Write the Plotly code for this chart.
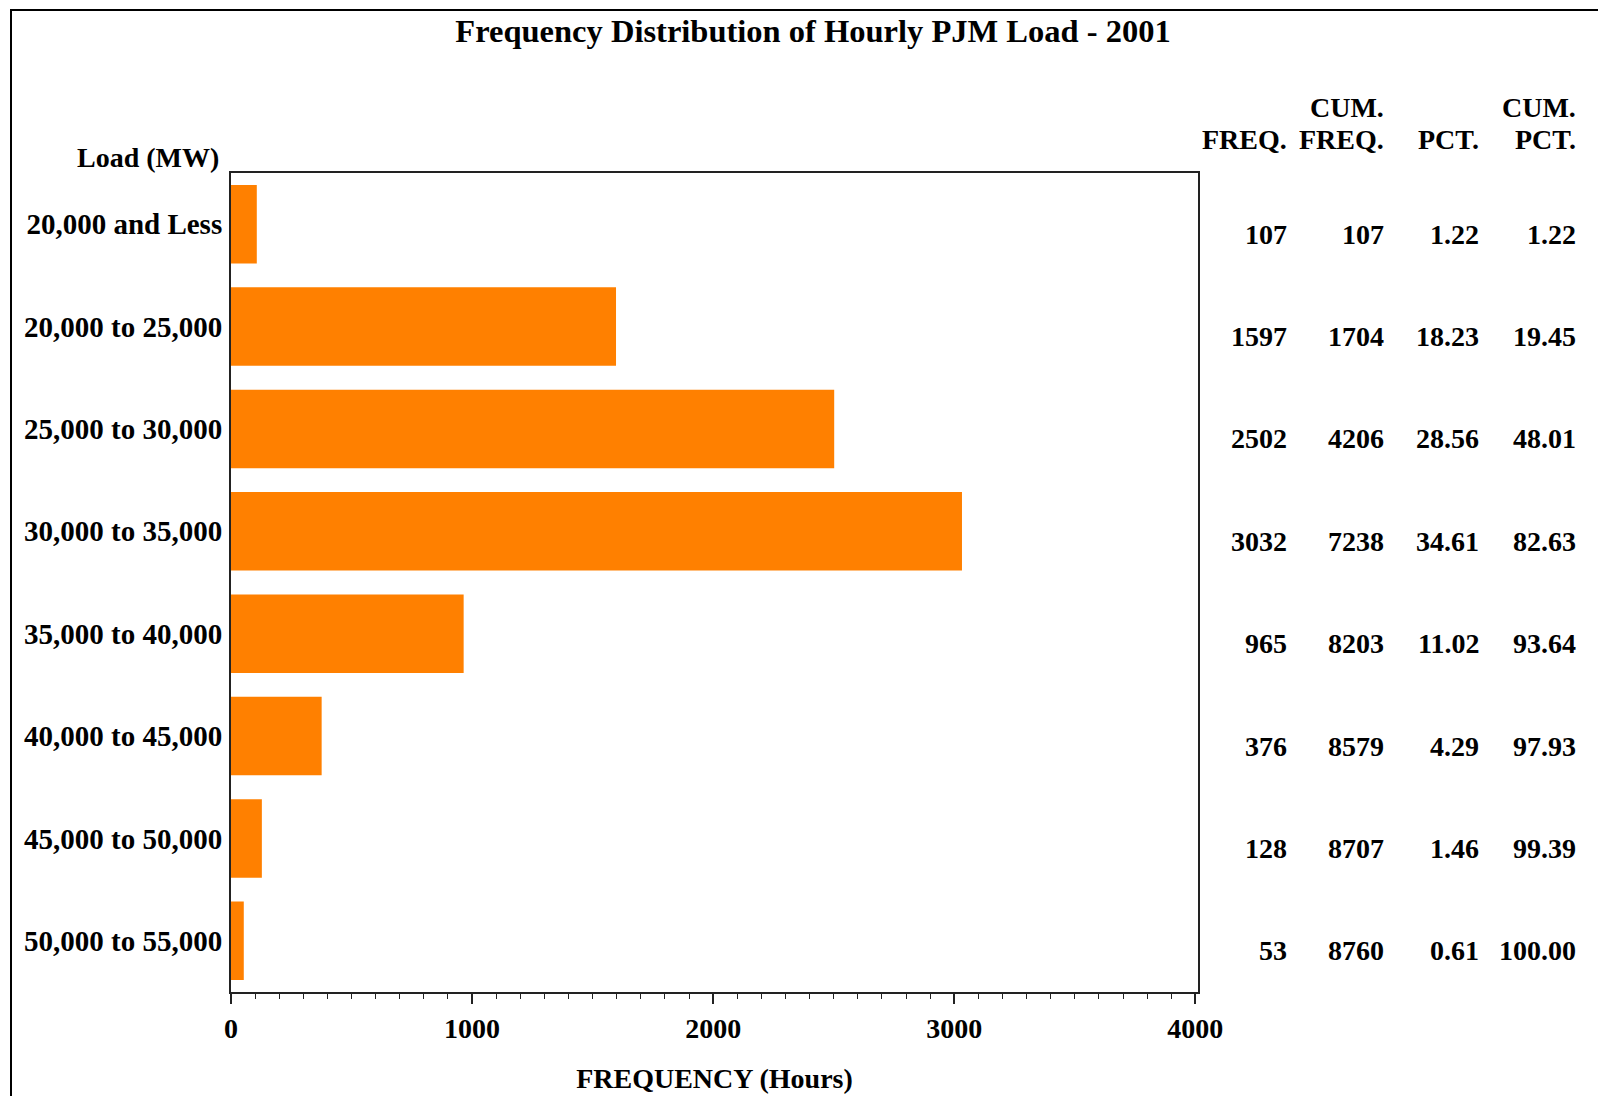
import plotly.graph_objects as go

# ---- data ----
load_bins = ["20,000 and Less", "20,000 to 25,000", "25,000 to 30,000", "30,000 to 35,000",
             "35,000 to 40,000", "40,000 to 45,000", "45,000 to 50,000", "50,000 to 55,000"]
freq = [107, 1597, 2502, 3032, 965, 376, 128, 53]
cum_freq = [107, 1704, 4206, 7238, 8203, 8579, 8707, 8760]
pct = ["1.22", "18.23", "28.56", "34.61", "11.02", "4.29", "1.46", "0.61"]
cum_pct = ["1.22", "19.45", "48.01", "82.63", "93.64", "97.93", "99.39", "100.00"]
table_headers = [("FREQ.", ""), ("FREQ.", "CUM."), ("PCT.", ""), ("PCT.", "CUM.")]
x_ticks = [0, 1000, 2000, 3000, 4000]

# ---- layout geometry (pixels in the 1606x1096 page) ----
PAGE_W, PAGE_H = 1606, 1096
OFF = 8                      # page body margin in which the figure sits
W, H = PAGE_W - OFF, PAGE_H - OFF
L, R, T, B = 231 - OFF, PAGE_W - 1198, 173 - OFF, PAGE_H - 992
PW, PH = W - L - R, H - T - B


def px_x(px):
    return (px - OFF - L) / PW


def px_y(py):
    return 1 - (py - OFF - T) / PH


FONT = "Liberation Serif"
fnt = dict(family=FONT, size=28, color="black", weight="bold")

fig = go.Figure()
fig.add_trace(go.Bar(
    x=freq, y=load_bins, orientation="h",
    marker=dict(color="#FF8000", line=dict(width=0)),
    hoverinfo="x+y", showlegend=False,
))

# table columns (right edge of each column in pixels)
col_right = [1289, 1386, 1481, 1578]
columns = [freq, cum_freq, pct, cum_pct]
annotations = []
for cx, vals in zip(col_right, columns):
    for cat, v in zip(load_bins, vals):
        annotations.append(dict(
            x=px_x(cx), xref="paper", y=cat, yref="y", yshift=-10,
            text=str(v), showarrow=False, xanchor="right", yanchor="middle",
            font=fnt,
        ))
for cx, (line2, line1) in zip(col_right, table_headers):
    annotations.append(dict(x=px_x(cx), xref="paper", y=px_y(140), yref="paper",
                            text=line2, showarrow=False, xanchor="right",
                            yanchor="middle", font=fnt))
    if line1:
        annotations.append(dict(x=px_x(cx), xref="paper", y=px_y(107), yref="paper",
                                text=line1, showarrow=False, xanchor="right",
                                yanchor="middle", font=fnt))
annotations.append(dict(x=px_x(221), xref="paper", y=px_y(157), yref="paper",
                        text="Load (MW)", showarrow=False, xanchor="right",
                        yanchor="middle", font=fnt))

fig.update_layout(
    width=W, height=H,
    margin=dict(l=L, r=R, t=T, b=B, autoexpand=False),
    paper_bgcolor="white", plot_bgcolor="white",
    bargap=0.234,
    title=dict(text="Frequency Distribution of Hourly PJM Load - 2001",
               x=(813 - OFF) / W, xanchor="center", xref="container",
               y=1 - (31 - OFF) / H, yanchor="middle", yref="container",
               font=dict(family=FONT, size=32.5, color="black", weight="bold")),
    xaxis=dict(
        range=[0, 4011], tickvals=x_ticks, ticks="outside", ticklen=10,
        tickwidth=1.5, tickcolor="#222",
        minor=dict(dtick=100, ticks="outside", ticklen=5, tickwidth=1.2, tickcolor="#222"),
        showgrid=False, zeroline=False,
        showline=True, linecolor="#222", linewidth=2, mirror=True,
        tickfont=fnt, ticklabelstandoff=0,
        title=dict(text="FREQUENCY (Hours)", font=fnt, standoff=26),
    ),
    yaxis=dict(
        type="category", range=[7.5, -0.5],
        showgrid=False, zeroline=False, ticks="",
        showline=True, linecolor="#222", linewidth=2, mirror=True,
        tickfont=dict(family=FONT, size=29, color="black", weight="bold"),
        ticklabelstandoff=1,
    ),
    annotations=annotations,
    shapes=[dict(type="rect", xref="paper", yref="paper",
                 x0=px_x(11), x1=px_x(PAGE_W + 20), y0=px_y(PAGE_H + 20), y1=px_y(10),
                 line=dict(color="black", width=2), fillcolor="rgba(0,0,0,0)",
                 layer="below")],
)

fig.write_html("out.html")
